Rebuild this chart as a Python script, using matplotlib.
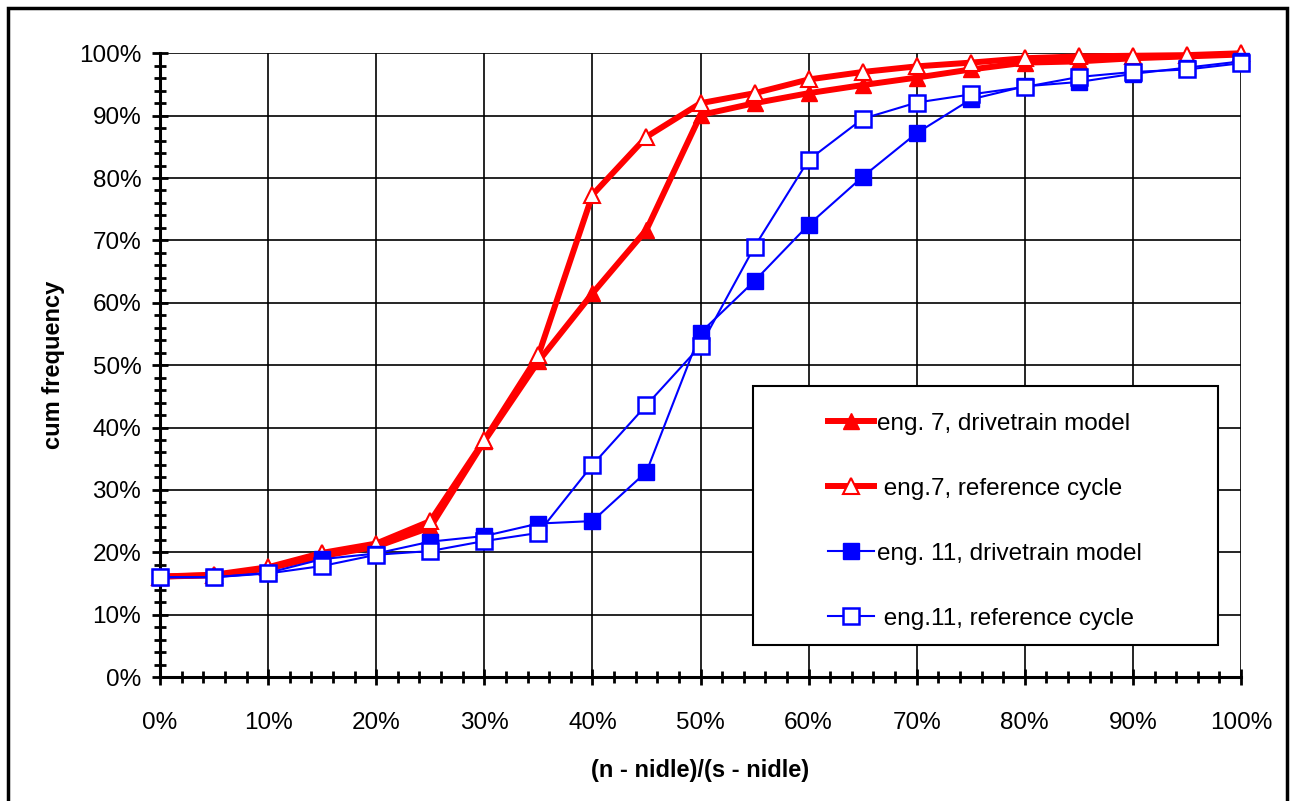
#!/usr/bin/env python
# -*- coding: utf-8 -*-

#...for the plotting.
import matplotlib.pyplot as plt
from matplotlib.patches import Rectangle
from matplotlib.ticker import MultipleLocator, FuncFormatter

plt.rcParams['font.family'] = ['Liberation Sans', 'DejaVu Sans']

# Normalised speed, (n - nidle)/(s - nidle), in %.
x_vals = [0, 5, 10, 15, 20, 25, 30, 35, 40, 45, 50,
          55, 60, 65, 70, 75, 80, 85, 90, 95, 100]

# Cumulative frequencies in %.
eng7_drive = [16.1, 16.3, 17.4, 19.4, 20.9, 24.0, 37.8, 50.6, 61.5, 71.7, 90.1,
              92.0, 93.6, 94.9, 96.1, 97.4, 98.5, 98.7, 99.2, 99.5, 99.8]
eng7_ref = [16.1, 16.4, 17.6, 19.9, 21.4, 25.0, 38.0, 51.6, 77.3, 86.6, 92.0,
            93.6, 95.8, 97.0, 97.9, 98.5, 99.2, 99.5, 99.6, 99.7, 100.0]
eng11_drive = [16.0, 16.0, 16.7, 18.9, 19.8, 21.7, 22.6, 24.6, 25.0, 32.9, 55.2,
               63.5, 72.5, 80.2, 87.2, 92.6, 94.7, 95.4, 96.7, 97.7, 98.7]
eng11_ref = [16.0, 16.0, 16.6, 17.8, 19.6, 20.2, 21.8, 23.1, 34.0, 43.6, 53.1,
             69.0, 82.9, 89.5, 92.1, 93.4, 94.6, 96.2, 97.0, 97.4, 98.4]

labels = ['eng. 7, drivetrain model', ' eng.7, reference cycle',
          'eng. 11, drivetrain model', ' eng.11, reference cycle']

## The figure.
fig = plt.figure(figsize=(12.95, 8.01), dpi=100, facecolor='w')

# Position the axes as in the original.
ax = fig.add_axes([0.1236, 0.1548, 0.8347, 0.7787])

# The red (engine 7) curves.
l1, = ax.plot(x_vals, eng7_drive, color='#ff0000', lw=4.3, marker='^',
              ms=12, mfc='#ff0000', mec='#ff0000', zorder=3, clip_on=False)
l2, = ax.plot(x_vals, eng7_ref, color='#ff0000', lw=4.3, marker='^',
              ms=12, mfc='white', mec='#ff0000', mew=1.5, zorder=3, clip_on=False)

# The blue (engine 11) curves.
l3, = ax.plot(x_vals, eng11_drive, color='#0000ff', lw=1.5, marker='s',
              ms=12, mfc='#0000ff', mec='#0000ff', zorder=4, clip_on=False)
l4, = ax.plot(x_vals, eng11_ref, color='#0000ff', lw=1.5, marker='s',
              ms=12, mfc='white', mec='#0000ff', mew=1.8, zorder=4, clip_on=False)

# Axis limits and ticks.
ax.set_xlim(0, 100)
ax.set_ylim(0, 100)
ax.xaxis.set_major_locator(MultipleLocator(10))
ax.xaxis.set_minor_locator(MultipleLocator(2))
ax.yaxis.set_major_locator(MultipleLocator(10))
ax.yaxis.set_minor_locator(MultipleLocator(2))
pct = FuncFormatter(lambda v, pos: '%d%%' % v)
ax.xaxis.set_major_formatter(pct)
ax.yaxis.set_major_formatter(pct)
ax.tick_params(which='both', direction='inout', width=2, labelsize=17.5,
               top=False, right=False)
ax.tick_params(which='major', length=11)
ax.tick_params(which='minor', length=8)
ax.tick_params(axis='x', which='major', pad=20)
ax.tick_params(axis='y', which='major', pad=8)

# Spines: heavy left and bottom, the rest is done by the grid.
for s in ['top', 'right']:
    ax.spines[s].set_visible(False)
for s in ['left', 'bottom']:
    ax.spines[s].set_linewidth(2.2)

# Add a grid.
ax.grid(True, which='major', color='black', lw=1.2)
ax.set_axisbelow(True)

# Axis labels.
ax.set_xlabel('(n - nidle)/(s - nidle)', fontsize=17, fontweight='bold', labelpad=18)
ax.set_ylabel('cum frequency', fontsize=17, fontweight='bold', labelpad=10)

# The legend, inside a plain box.
box = Rectangle((0.549, 0.0513), 0.43, 0.415, transform=ax.transAxes,
                facecolor='white', edgecolor='black', lw=1.5, zorder=5)
ax.add_patch(box)
leg = ax.legend([l1, l2, l3, l4], labels, loc='upper left',
                bbox_to_anchor=(0.6, 0.455), frameon=False, fontsize=17.5,
                handlelength=1.9, handletextpad=0.1, labelspacing=1.77,
                borderpad=0.3)
leg.set_zorder(6)

# A frame round the whole figure.
fig.patches.append(Rectangle((8 / 1295.0, -0.02), 1279 / 1295.0, 793 / 801.0 + 0.02,
                             transform=fig.transFigure, fill=False,
                             edgecolor='black', lw=2.5, clip_on=False))

# Save the figure.
fig.savefig('out.png', dpi=100)
